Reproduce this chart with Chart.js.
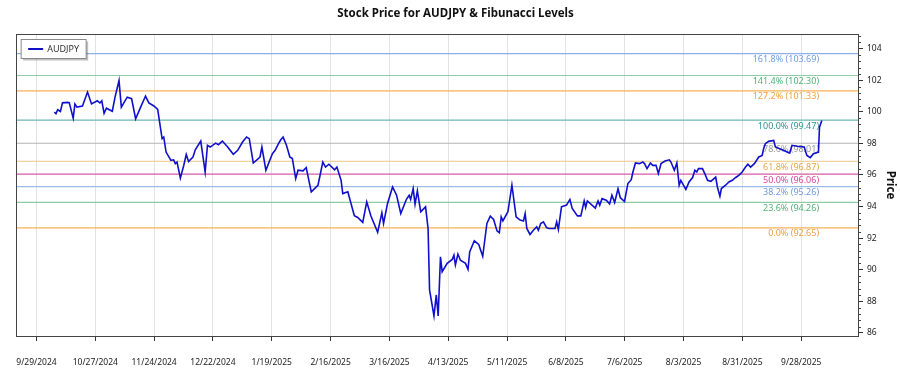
<!DOCTYPE html>
<html lang="en">
<head>
  <meta charset="UTF-8" />
  <script src="https://cdn.jsdelivr.net/npm/chart.js"></script>
  <style>
    body { margin: 0; background: #fff; }
  </style>
</head>
<body>
  <canvas id="fibChart" width="900" height="375"></canvas>

  <script>
    // x positions are days since 9/29/2024
    const tickLabels = ['9/29/2024', '10/27/2024', '11/24/2024', '12/22/2024', '1/19/2025', '2/16/2025',
      '3/16/2025', '4/13/2025', '5/11/2025', '6/8/2025', '7/6/2025', '8/3/2025', '8/31/2025', '9/28/2025'];
    const tickDays = [0, 28, 56, 84, 112, 140, 168, 196, 224, 252, 280, 308, 336, 364];

    const dayOffsets = [
      8.5, 9.3, 10.1, 11.4, 12.4, 14.8, 15.6, 17.5, 18.3, 19.3, 21.9, 24.3, 26.2, 29.0, 30.2, 31.1,
      32.2, 33.3, 36.1, 37.4, 39.3, 40.4, 43.2, 45.3, 47.2, 49.6, 51.9, 53.5, 55.9, 57.7, 59.8, 60.6,
      61.7, 64.0, 65.3, 66.1, 66.9, 68.5, 70.1, 71.3, 72.4, 74.5, 75.6, 78.2, 80.3, 81.4, 82.7, 85.3,
      86.6, 88.5, 91.0, 93.7, 95.8, 98.1, 100.0, 101.3, 103.2, 106.4, 107.3, 109.2, 112.3, 113.6, 115.2,
      116.3, 117.4, 119.0, 120.6, 121.8, 123.4, 124.5, 126.9, 128.4, 130.8, 134.0, 136.3, 137.6, 139.2,
      141.9, 143.0, 145.0, 145.8, 148.2, 151.3, 152.9, 155.3, 157.2, 159.2, 162.4, 164.4, 165.2, 167.1,
      169.5, 171.4, 173.4, 176.1, 177.4, 178.1, 179.3, 180.2, 181.3, 182.9, 185.2, 186.4, 187.1, 189.2,
      190.3, 191.2, 192.3, 193.1, 195.5, 197.9, 198.7, 199.4, 200.6, 201.8, 204.2, 205.4, 206.2, 208.4,
      210.5, 212.4, 214.4, 216.0, 217.6, 219.2, 220.3, 221.2, 222.0, 224.4, 226.3, 228.3, 230.2, 231.8,
      232.6, 233.4, 234.9, 236.5, 238.1, 238.9, 240.0, 241.3, 242.8, 243.9, 246.8, 247.6, 248.4, 249.9,
      252.3, 253.9, 255.0, 257.5, 259.1, 260.7, 261.4, 262.2, 266.0, 267.3, 268.1, 269.2, 271.2, 272.8,
      273.9, 275.2, 276.8, 277.9, 279.9, 281.5, 283.1, 283.9, 285.1, 287.0, 288.6, 289.4, 290.6, 292.2,
      293.3, 294.9, 296.0, 297.3, 299.2, 301.2, 302.0, 303.6, 304.8, 305.9, 306.7, 309.1, 310.6, 312.3,
      313.4, 314.3, 315.1, 317.0, 318.1, 319.4, 321.0, 323.3, 324.1, 325.3, 326.0, 328.0, 329.6, 331.2,
      332.8, 334.3, 335.9, 337.5, 338.6, 339.9, 341.7, 343.8, 345.4, 346.1, 346.9, 348.5, 350.9, 351.7,
      354.9, 358.5, 359.6, 362.0, 365.4, 366.7, 368.3, 369.8, 372.2, 372.7, 373.8
    ];
    const prices = [
      99.98, 99.88, 100.13, 100.02, 100.57, 100.60, 100.58, 99.60, 100.50, 100.30, 100.37, 101.25, 100.50, 100.70, 100.56, 100.70,
      99.90, 100.23, 100.04, 100.93, 101.98, 100.30, 100.93, 100.83, 99.56, 100.30, 101.00, 100.57, 100.37, 100.15, 98.30, 98.40,
      97.45, 96.93, 96.96, 96.72, 96.82, 95.80, 96.60, 97.30, 96.85, 97.14, 97.60, 98.15, 96.19, 97.88, 97.77, 98.02,
      97.92, 98.15, 97.77, 97.31, 97.56, 98.09, 98.40, 98.30, 96.76, 97.14, 97.77, 96.30, 97.35, 97.56, 97.98,
      98.23, 98.40, 97.88, 97.14, 97.04, 95.77, 96.30, 96.26, 96.47, 94.93, 95.35, 96.82, 96.50, 96.68,
      96.33, 96.50, 95.66, 94.82, 94.93, 93.42, 93.31, 93.00, 94.30, 93.40, 92.37, 93.60, 92.93, 94.19,
      95.24, 94.72, 93.56, 94.46, 94.72, 94.45, 95.14, 94.15, 94.99, 93.67, 93.98, 92.61, 88.72, 87.07,
      88.40, 87.07, 90.82, 89.87, 90.40, 90.65, 90.92, 90.30, 90.99, 90.60, 90.40, 90.02, 91.13, 91.83,
      91.60, 90.85, 92.93, 93.39, 93.18, 92.46, 92.34, 93.35, 93.09, 93.67, 95.35, 93.35, 93.14, 93.09,
      93.56, 92.61, 92.23, 92.50, 92.71, 92.50, 92.93, 93.03, 92.67, 92.61, 92.61, 93.03, 92.55, 93.98,
      94.09, 94.45, 93.88, 93.41, 93.41, 94.36, 93.94, 94.36, 93.90, 94.36, 94.09, 94.50, 94.40, 94.17,
      94.72, 94.26, 95.12, 94.56, 94.32, 95.46, 95.70, 96.19, 96.76, 96.72, 96.82, 96.72, 96.40, 96.76,
      96.61, 96.61, 96.09, 96.72, 96.88, 96.96, 96.82, 96.30, 96.76, 95.35, 95.66, 95.08, 95.56, 95.84,
      96.30, 96.19, 96.40, 96.40, 96.09, 95.66, 95.60, 95.87, 95.24, 94.66, 95.14, 95.35, 95.56, 95.66,
      95.84, 95.98, 96.19, 96.50, 96.68, 96.50, 96.72, 97.14, 97.24, 97.66, 97.98, 98.13, 98.19, 97.77,
      97.60, 97.39, 97.88, 97.82, 97.77, 97.24, 97.10, 97.35, 97.45, 99.03, 99.45
    ];

    const fibNames = ['0.0%', '23.6%', '38.2%', '50.0%', '61.8%', '78.6%', '100.0%', '127.2%', '141.4%', '161.8%'];
    const fibLevels = [92.65, 94.26, 95.26, 96.06, 96.87, 98.01, 99.47, 101.33, 102.30, 103.69];
    const fibLineColors = ['#f6b25a', '#8fcca6', '#9dbbe8', '#d85aa8', '#ecc684', '#b4b4b4', '#6fb3b3', '#f6b25a', '#8fcca6', '#8fb0e4'];
    const fibTextColors = ['#f0a040', '#4fb477', '#6f9ce0', '#d24a9c', '#e6a845', '#9a9a9a', '#2f9393', '#f0a040', '#4fb477', '#6f9ce0'];

    const xMin = -9.9, xMax = 391.5;
    const yMin = 85.8, yMax = 104.93;
    const FONT = '"Noto Sans", sans-serif';

    const fibDatasets = fibLevels.map((lvl, i) => ({
      label: fibNames[i],
      data: [{ x: xMin, y: lvl }, { x: xMax, y: lvl }],
      borderColor: fibLineColors[i],
      borderWidth: 1.2,
      pointRadius: 0,
      order: 1,
    }));

    // fib labels go under the price line, above the level lines
    const fibLabels = {
      id: 'fibLabels',
      beforeDatasetDraw(chart, args) {
        if (args.index !== 0) return;
        const { ctx } = chart;
        const y = chart.scales.y;
        const xr = chart.scales.x.getPixelForValue(372.5);
        ctx.save();
        ctx.font = '9px ' + FONT;
        ctx.textAlign = 'right';
        ctx.textBaseline = 'middle';
        fibLevels.forEach((lvl, i) => {
          ctx.fillStyle = fibTextColors[i];
          ctx.fillText(`${fibNames[i]} (${lvl.toFixed(2)})`, xr, y.getPixelForValue(lvl) + 6);
        });
        ctx.restore();
      },
    };

    const frameAndLegend = {
      id: 'frameAndLegend',
      afterDraw(chart) {
        const { ctx, chartArea: a } = chart;
        const y = chart.scales.y;
        ctx.save();
        // frame
        ctx.strokeStyle = '#444';
        ctx.lineWidth = 1;
        ctx.strokeRect(Math.round(a.left) + 0.5, Math.round(a.top) + 0.5,
          Math.round(a.right - a.left) - 1, Math.round(a.bottom - a.top));
        // minor ticks on the price axis
        ctx.beginPath();
        for (let v = 86.4; v < yMax; v += 0.4) {
          if (Math.abs(v / 2 - Math.round(v / 2)) < 0.01) continue;
          const py = Math.round(y.getPixelForValue(v)) + 0.5;
          ctx.moveTo(a.right, py);
          ctx.lineTo(a.right + 2, py);
        }
        ctx.stroke();
        // legend box
        const lx = a.left + 5.5, ly = a.top + 5.5, lw = 65, lh = 19;
        ctx.fillStyle = 'rgba(0,0,0,0.25)';
        ctx.fillRect(lx + 2, ly + 2, lw, lh);
        ctx.fillStyle = '#fff';
        ctx.fillRect(lx, ly, lw, lh);
        ctx.strokeStyle = '#8a8a8a';
        ctx.strokeRect(lx, ly, lw, lh);
        const ds = chart.data.datasets[0];
        ctx.strokeStyle = ds.borderColor;
        ctx.lineWidth = 2;
        ctx.beginPath();
        ctx.moveTo(lx + 7, ly + 9.5);
        ctx.lineTo(lx + 22, ly + 9.5);
        ctx.stroke();
        ctx.fillStyle = '#333';
        ctx.font = '9px ' + FONT;
        ctx.textBaseline = 'middle';
        ctx.fillText(ds.label, lx + 26, ly + 10);
        ctx.restore();
      },
    };

    const ctx = document.getElementById('fibChart').getContext('2d');
    new Chart(ctx, {
      type: 'line',
      data: {
        datasets: [{
          label: 'AUDJPY',
          data: dayOffsets.map((d, i) => ({ x: d, y: prices[i] })),
          borderColor: '#1010cc',
          borderWidth: 1.6,
          pointRadius: 0,
          tension: 0,
          order: 0,
        }, ...fibDatasets],
      },
      options: {
        responsive: false,
        animation: false,
        layout: { padding: { left: 11, right: 0, top: 0, bottom: 0 } },
        plugins: {
          legend: { display: false },
          tooltip: { enabled: false },
          title: {
            display: true,
            text: 'Stock Price for AUDJPY & Fibunacci Levels',
            color: '#111',
            font: { family: FONT, size: 11.5, weight: 'bold' },
            padding: { top: 7, bottom: 13.2 },
          },
        },
        scales: {
          x: {
            type: 'linear',
            min: xMin,
            max: xMax,
            afterBuildTicks(scale) {
              scale.ticks = tickDays.map(v => ({ value: v }));
            },
            afterFit(scale) { scale.height = 39; },
            border: { display: false },
            grid: { color: '#e3e3e3', tickColor: '#333', tickLength: 5, lineWidth: 1 },
            ticks: {
              autoSkip: false,
              maxRotation: 0,
              padding: 16,
              color: '#222',
              font: { family: FONT, size: 8.5 },
              callback: v => tickLabels[tickDays.indexOf(v)],
            },
          },
          y: {
            position: 'right',
            min: yMin,
            max: yMax,
            afterBuildTicks(scale) {
              scale.ticks = [86, 88, 90, 92, 94, 96, 98, 100, 102, 104].map(v => ({ value: v }));
            },
            afterFit(scale) { scale.width = 41; },
            border: { display: false },
            grid: { drawOnChartArea: false, tickColor: '#333', tickLength: 4 },
            ticks: {
              padding: 4,
              color: '#222',
              font: { family: FONT, size: 8.5 },
            },
            title: {
              display: true,
              text: 'Price',
              color: '#111',
              font: { family: FONT, size: 11.5, weight: 'bold' },
              padding: { top: 3, bottom: 0 },
            },
          },
        },
      },
      plugins: [fibLabels, frameAndLegend],
    });
  </script>
</body>
</html>
